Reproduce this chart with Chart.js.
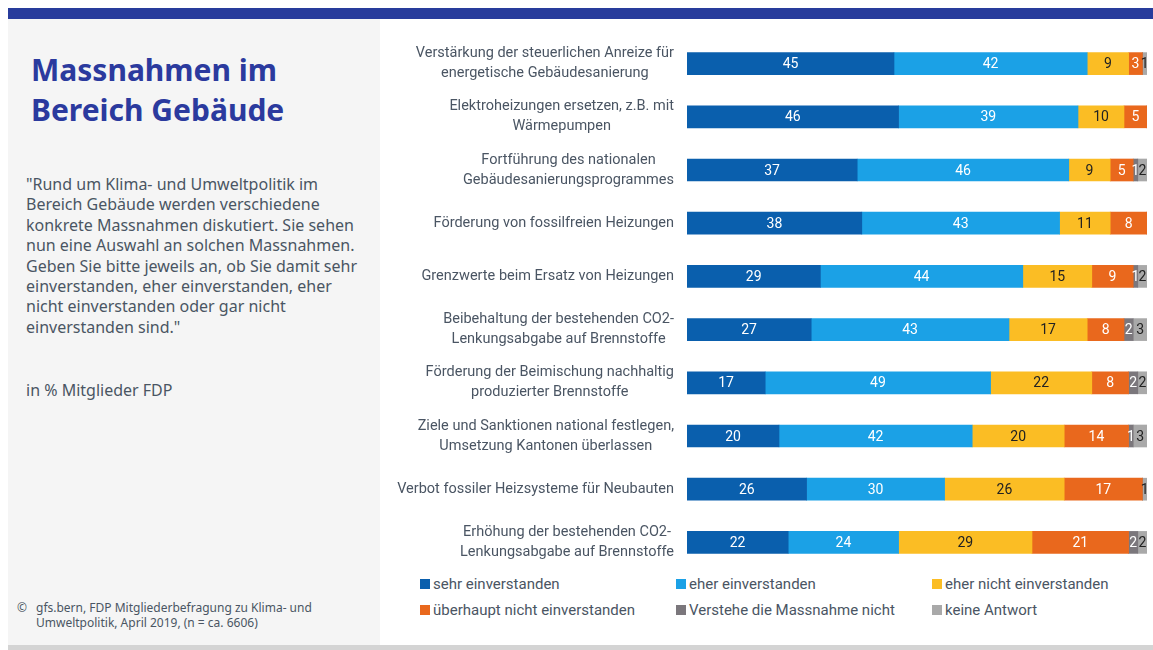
<!DOCTYPE html>
<html>
<head>
<meta charset="utf-8">
<script src="https://cdn.jsdelivr.net/npm/chart.js@4"></script>
<style>
  body { margin: 0; width: 1153px; height: 650px; background: #fff; position: relative; overflow: hidden; font-family: Roboto, "Noto Sans", sans-serif; }
  #topbar { position: absolute; left: 8px; top: 8px; width: 1145px; height: 11px; background: #283c9c; }
  #panel { position: absolute; left: 8px; top: 19px; width: 372px; height: 626px; background: #f5f5f5; }
  #bottom { position: absolute; left: 8px; top: 645px; width: 1145px; height: 5px; background: #d4d4d4; }
  #title { position: absolute; left: 31px; top: 50px; font: bold 30px "Noto Sans", sans-serif; color: #2b3a9e; line-height: 40px; }
  #quote { position: absolute; left: 26px; top: 174px; font: 16px "Noto Sans", sans-serif; color: #4a5563; line-height: 20.4px; white-space: nowrap; }
  #unit { position: absolute; left: 26px; top: 379px; font: 16px "Noto Sans", sans-serif; color: #4a5563; }
  #source { position: absolute; left: 17px; top: 600px; font: 12px "Noto Sans", sans-serif; color: #4a5563; line-height: 15px; }
  #source span { position: absolute; left: 0; }
  #source div { margin-left: 19px; }
  #chartbox { position: absolute; left: 380px; top: 0; width: 773px; height: 575px; }
  #legend { position: absolute; left: 420px; top: 575px; width: 733px; }
  .item { position: absolute; font-size: 15px; color: #4a5563; white-space: nowrap; }
  .item i { display: inline-block; width: 10px; height: 10px; margin-right: 3px; }
</style>
</head>
<body>
<div id="topbar"></div>
<div id="panel"></div>
<div id="bottom"></div>
<div id="title">Massnahmen im<br>Bereich Gebäude</div>
<div id="quote">"Rund um Klima- und Umweltpolitik im<br>Bereich Gebäude werden verschiedene<br>konkrete Massnahmen diskutiert. Sie sehen<br>nun eine Auswahl an solchen Massnahmen.<br>Geben Sie bitte jeweils an, ob Sie damit sehr<br>einverstanden, eher einverstanden, eher<br>nicht einverstanden oder gar nicht<br>einverstanden sind."</div>
<div id="unit">in % Mitglieder FDP</div>
<div id="source"><span>©</span><div>gfs.bern, FDP Mitgliederbefragung zu Klima- und<br>Umweltpolitik, April 2019, (n = ca. 6606)</div></div>
<div id="chartbox"><canvas id="chart"></canvas></div>
<div id="legend"></div>
<script>
const CATEGORIES = [
  ["Verstärkung der steuerlichen Anreize für", "energetische Gebäudesanierung"],
  ["Elektroheizungen ersetzen, z.B. mit", "Wärmepumpen"],
  ["Fortführung des nationalen", "Gebäudesanierungsprogrammes"],
  ["Förderung von fossilfreien Heizungen"],
  ["Grenzwerte beim Ersatz von Heizungen"],
  ["Beibehaltung der bestehenden CO2-", "Lenkungsabgabe auf Brennstoffe"],
  ["Förderung der Beimischung nachhaltig", "produzierter Brennstoffe"],
  ["Ziele und Sanktionen national festlegen,", "Umsetzung Kantonen überlassen"],
  ["Verbot fossiler Heizsysteme für Neubauten"],
  ["Erhöhung der bestehenden CO2-", "Lenkungsabgabe auf Brennstoffe"],
];

const SEHR = [45, 46, 37, 38, 29, 27, 17, 20, 26, 22];
const EHER = [42, 39, 46, 43, 44, 43, 49, 42, 30, 24];
const EHER_NICHT = [9, 10, 9, 11, 15, 17, 22, 20, 26, 29];
const UEBERHAUPT_NICHT = [3, 5, 5, 8, 9, 8, 8, 14, 17, 21];
const VERSTEHE_NICHT = [0, 0, 1, 0, 1, 2, 2, 1, 0, 2];
const KEINE_ANTWORT = [1, 0, 2, 0, 2, 3, 2, 3, 1, 2];

const SERIES = [
  { label: "sehr einverstanden", data: SEHR, color: "#0a5fad", text: "#fff" },
  { label: "eher einverstanden", data: EHER, color: "#1ba1e6", text: "#fff" },
  { label: "eher nicht einverstanden", data: EHER_NICHT, color: "#fbbd24", text: "#222" },
  { label: "überhaupt nicht einverstanden", data: UEBERHAUPT_NICHT, color: "#e9681d", text: "#fff" },
  { label: "Verstehe die Massnahme nicht", data: VERSTEHE_NICHT, color: "#7b777c", text: "#fff" },
  { label: "keine Antwort", data: KEINE_ANTWORT, color: "#a9a9a9", text: "#222" },
];

const LEGEND_POS = [[0, 0], [256, 0], [512, 0], [0, 26], [256, 26], [512, 26]];
document.getElementById("legend").innerHTML = SERIES.map((s, i) =>
  `<div class="item" style="left:${LEGEND_POS[i][0]}px;top:${LEGEND_POS[i][1]}px"><i style="background:${s.color}"></i>${s.label}</div>`
).join("");

// category labels + value labels drawn on top of the bars
const labelPlugin = {
  id: "labels",
  afterDatasetsDraw(chart) {
    const ctx = chart.ctx;
    const yScale = chart.scales.y;
    ctx.save();
    ctx.font = "14.5px Roboto, sans-serif";
    ctx.textBaseline = "middle";
    ctx.textAlign = "center";
    ctx.fillStyle = "#4a5563";
    const right = chart.chartArea.left - 13;
    CATEGORIES.forEach((lines, i) => {
      const y = yScale.getPixelForValue(i);
      const w = Math.max(...lines.map(l => ctx.measureText(l).width));
      const cx = right - w / 2;
      lines.forEach((l, k) => ctx.fillText(l, cx, y + (k - (lines.length - 1) / 2) * 20));
    });
    ctx.font = "14px Roboto, sans-serif";
    SERIES.forEach((s, di) => {
      const meta = chart.getDatasetMeta(di);
      ctx.fillStyle = s.text;
      meta.data.forEach((bar, i) => {
        const v = s.data[i];
        if (!v) return;
        ctx.fillText(String(v), (bar.x + bar.base) / 2, bar.y + 1);
      });
    });
    ctx.restore();
  }
};

new Chart(document.getElementById("chart"), {
  type: "bar",
  data: {
    labels: CATEGORIES.map(c => c.join(" ")),
    datasets: SERIES.map(s => ({
      label: s.label,
      data: s.data,
      backgroundColor: s.color,
      barThickness: 22,
    })),
  },
  options: {
    indexAxis: "y",
    responsive: true,
    maintainAspectRatio: false,
    animation: false,
    layout: { padding: { left: 307, right: 6, top: 37, bottom: 6 } },
    scales: {
      x: { stacked: true, min: 0, max: 100, display: false },
      y: { stacked: true, display: false },
    },
    plugins: { legend: { display: false }, tooltip: { enabled: false } },
  },
  plugins: [labelPlugin],
});
</script>
</body>
</html>
